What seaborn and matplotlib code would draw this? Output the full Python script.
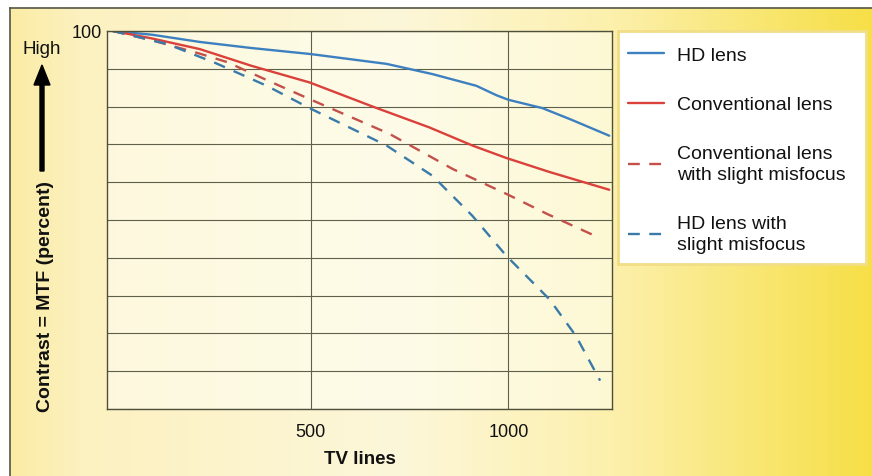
import numpy as np
import pandas as pd
import matplotlib
matplotlib.use("Agg")
import matplotlib.pyplot as plt
from matplotlib.patches import Rectangle, FancyArrow
from matplotlib.colors import to_rgb
import seaborn as sns

# Data (TV lines vs MTF percent)
hd_x = [0, 100, 220, 350, 500, 692, 808, 919, 970, 1000, 1086, 1160, 1255]
hd_y = [100, 99, 97.1, 95.5, 93.9, 91.3, 88.6, 85.5, 83, 81.8, 79.6, 76.5, 72.3]

conv_x = [0, 100, 220, 350, 497, 657, 800, 909, 995, 1104, 1255]
conv_y = [100, 98, 95.2, 90.8, 86.4, 80, 74.5, 69.7, 66.4, 62.7, 58]

conv_mis_x = [0, 100, 220, 288, 400, 497, 699, 859, 995, 1100, 1215]
conv_mis_y = [100, 97.5, 94.0, 91.8, 86.5, 82, 72.8, 63.5, 56.9, 51.5, 46]

hd_mis_x = [0, 136, 260, 389, 497, 692, 808, 909, 995, 1104, 1171, 1232]
hd_mis_y = [100, 96.6, 91.5, 85.5, 79.6, 69.7, 61.7, 51.1, 40.5, 29, 19.3, 7.5]

labels = ["HD lens", "Conventional lens",
          "Conventional lens\nwith slight misfocus", "HD lens with\nslight misfocus"]
colors = ["#3d80c0", "#d9413a", "#c4504a", "#3a7aa8"]
dashed = [False, False, True, True]
x_ticks = [500, 1000]

sns.set_style("white")
plt.rcParams["font.family"] = ["Liberation Sans", "DejaVu Sans"]
plt.rcParams["text.color"] = "#111111"

fig = plt.figure(figsize=(8.72, 4.77), dpi=100)
fig.patch.set_facecolor("white")

# yellow gradient background
bg = fig.add_axes([10 / 872, 0, 862 / 872, 468 / 477], zorder=-5)
stops = [0.0, 0.08, 0.45, 0.7, 1.0]
cols = np.array([to_rgb(c) for c in ["#fbeca4", "#fcf1c0", "#fdf7da", "#fcf0ac", "#f6df46"]])
t = np.linspace(0, 1, 400)
grad = np.stack([np.interp(t, stops, cols[:, i]) for i in range(3)], axis=-1)[None, :, :]
bg.imshow(grad, aspect="auto", extent=[0, 1, 0, 1])
bg.set_xticks([])
bg.set_yticks([])
for side in ["right", "bottom"]:
    bg.spines[side].set_visible(False)
for side in ["left", "top"]:
    bg.spines[side].set_color("#555544")
    bg.spines[side].set_linewidth(1.2)

ax = fig.add_axes([107 / 872, 1 - 410 / 477, 505 / 872, 378 / 477])
ax.set_facecolor((1, 1, 0.96, 0.55))

series = [(hd_x, hd_y), (conv_x, conv_y), (conv_mis_x, conv_mis_y), (hd_mis_x, hd_mis_y)]
for (xs, ys), lab, c, d in zip(series, labels, colors, dashed):
    df = pd.DataFrame({"x": xs, "y": ys})
    line_ax = sns.lineplot(data=df, x="x", y="y", ax=ax, color=c, lw=1.7, label=lab)
    if d:
        line_ax.lines[-1].set_dashes((5, 4))

ax.set_xlim(-15, 1262)
ax.set_ylim(0, 100)
ax.set_yticks(np.arange(0, 101, 10))
ax.set_yticklabels([""] * 10 + ["100"])
ax.set_xticks(x_ticks)
ax.set_xticklabels([str(v) for v in x_ticks])
ax.tick_params(axis="both", length=0, labelsize=13, colors="#111111")
ax.tick_params(axis="x", pad=10)
ax.tick_params(axis="y", pad=4)
ax.grid(True, color="#5f604a", lw=0.8)
for s in ax.spines.values():
    s.set_color("#4f503c")
    s.set_linewidth(1.0)
ax.set_ylabel("")
ax.set_xlabel("TV lines", fontsize=13.5, fontweight="bold", labelpad=7, color="#111111")

handles, labs = ax.get_legend_handles_labels()
ax.get_legend().remove()

# legend box
fig.patches.append(Rectangle((618 / 872, 1 - 265 / 477), 248 / 872, 233 / 477,
                             transform=fig.transFigure, facecolor="white",
                             edgecolor="#f1de86", lw=2, zorder=1))
leg = fig.legend(handles, labs, loc="upper left", bbox_to_anchor=(628 / 872, 1 - 47 / 477),
                 frameon=False, fontsize=14, labelspacing=1.65, handlelength=1.85,
                 handletextpad=0.65, borderpad=0, borderaxespad=0)
for txt in leg.get_texts():
    txt.set_color("#111111")
    txt.set_linespacing(1.3)

# y axis label and arrow
fig.text(45 / 872, 1 - 297 / 477, "Contrast = MTF (percent)", rotation=90,
         ha="center", va="center", fontsize=14, fontweight="bold")
fig.text(42 / 872, 1 - 49 / 477, "High", ha="center", va="center", fontsize=13.5)
fig.add_artist(FancyArrow(42 / 872, 1 - 172 / 477, 0, 106 / 477,
                          width=4 / 872, head_width=16 / 872,
                          head_length=20 / 477, length_includes_head=True,
                          transform=fig.transFigure, color="black"))

fig.savefig("out.png", dpi=100)
